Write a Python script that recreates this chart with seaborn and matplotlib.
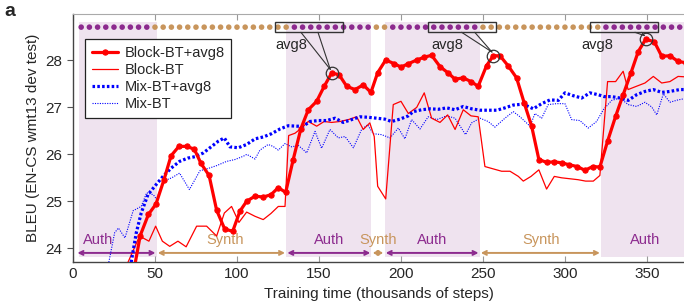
import numpy as np
import pandas as pd
import seaborn as sns
import matplotlib.pyplot as plt
from matplotlib.patches import Rectangle

# Block-BT+avg8 (thick red with markers)
block_avg_steps = [37, 41, 46, 50.6, 55.5, 59.8, 64.6, 69.3, 74, 78,
                   83, 87.6, 92.5, 97.4, 101.8, 105.9, 111, 116, 120.7, 125.2,
                   129.7, 134.3, 139, 143.5, 148.6, 153.2, 157.7, 162.2, 166.9, 172,
                   177, 181.7, 185.8, 190.7, 196, 200, 204.5, 209.6, 214.2, 218.7,
                   223.8, 228.9, 233, 238, 242.7, 247.1, 252.2, 256.3, 260.4, 265.5,
                   270.5, 275.2, 279.7, 284.1, 288.8, 293.5, 298, 302.4, 307.5, 312.2,
                   316.9, 321.3, 326, 330.9, 335.5, 340.2, 344.7, 349.2, 354.5, 359,
                   364, 369, 374]
block_avg_bleu = [23.5, 24.27, 24.72, 24.94, 25.46, 25.97, 26.17, 26.17, 26.11, 25.81,
                  25.55, 24.81, 24.41, 24.36, 24.79, 25.0, 25.11, 25.09, 25.14, 25.29,
                  25.19, 25.89, 26.55, 26.95, 27.13, 27.45, 27.73, 27.70, 27.45, 27.38,
                  27.48, 27.32, 27.74, 28.01, 27.93, 27.86, 27.93, 28.01, 28.07, 28.11,
                  27.87, 27.73, 27.60, 27.63, 27.55, 27.45, 27.89, 28.10, 28.10, 27.88,
                  27.63, 27.09, 26.60, 25.89, 25.83, 25.84, 25.82, 25.78, 25.74, 25.66,
                  25.74, 25.73, 26.28, 26.81, 27.27, 27.73, 28.19, 28.45, 28.40, 28.09,
                  28.10, 27.98, 27.95]

# Block-BT (thin red)
block_steps = [30, 40.6, 46.3, 50.4, 54.5, 59, 64, 69, 75.4, 81.5,
               87.6, 92.3, 96.7, 101.2, 105.9, 111, 116, 120.7, 125.2, 129.3,
               131.5, 135.4, 139.4, 143.5, 148.6, 153.2, 157.7, 162.8, 167.9, 173,
               177, 181, 183.7, 185.8, 190.7, 195.3, 200, 204.5, 209.6, 214.2,
               218.7, 223.8, 228.5, 233, 238, 242.7, 247.1, 251.2, 256.3, 261.4,
               266.5, 271.6, 274.6, 279.3, 284.1, 288.8, 293.5, 298, 303, 308,
               312.6, 317.3, 321.3, 326, 330.9, 335.5, 338.5, 343.6, 348.8, 353.9,
               359, 364, 369, 374]
block_bleu = [23.42, 24.26, 24.15, 24.47, 24.15, 24.04, 24.15, 24.03, 24.47, 24.47,
              24.26, 24.75, 24.89, 24.55, 24.77, 24.68, 24.61, 24.74, 24.89, 24.89,
              26.40, 26.45, 26.56, 26.70, 26.60, 26.70, 26.68, 26.70, 26.74, 26.80,
              26.53, 26.67, 26.38, 25.32, 25.05, 27.06, 27.13, 26.87, 27.00, 27.31,
              26.77, 26.68, 26.84, 26.53, 26.95, 26.82, 26.80, 25.74, 25.69, 25.64,
              25.64, 25.53, 25.43, 25.53, 25.67, 25.26, 25.53, 25.50, 25.48, 25.46,
              25.43, 25.43, 25.55, 27.55, 27.55, 27.77, 27.38, 27.45, 27.52, 27.66,
              27.52, 27.55, 27.66, 27.65]

# Mix-BT+avg8 (thick blue dotted)
mix_avg_steps = [34.5, 38.6, 41.6, 45.7, 50.8, 54.9, 60, 65, 70, 74.4,
                 79.5, 84.6, 88.6, 92.3, 95.7, 100.8, 105.9, 111, 116, 121.1,
                 126.2, 131.3, 136.4, 140.4, 144.5, 149.6, 154.7, 159.8, 164.8, 169.9,
                 175, 180, 185.2, 190.2, 194.3, 199.4, 204.5, 207.5, 212.6, 217.7,
                 222.8, 227.9, 233, 238, 243.1, 248.2, 253.2, 258.4, 263.4, 268.5,
                 274.6, 280.7, 285.8, 290.9, 296, 300, 305, 310.2, 315.2, 320.3,
                 323.9, 328.5, 333.5, 338.6, 343.7, 348.8, 353.9, 359, 364, 370,
                 375]
mix_avg_bleu = [23.5, 24.33, 24.75, 25.14, 25.36, 25.53, 25.71, 25.85, 25.92, 25.95,
                26.03, 26.17, 26.28, 26.35, 26.16, 26.14, 26.21, 26.33, 26.37, 26.44,
                26.54, 26.61, 26.60, 26.60, 26.70, 26.72, 26.72, 26.77, 26.68, 26.74,
                26.80, 26.79, 26.77, 26.75, 26.70, 26.75, 26.82, 26.91, 26.95, 26.97,
                26.96, 26.99, 26.95, 27.02, 26.97, 26.94, 26.94, 26.94, 26.99, 27.05,
                27.07, 26.97, 27.08, 27.16, 27.15, 27.31, 27.25, 27.20, 27.31, 27.27,
                27.23, 27.23, 27.20, 27.15, 27.27, 27.34, 27.38, 27.32, 27.34, 27.38,
                27.38]

# Mix-BT (thin blue dotted)
mix_steps = [21, 25.4, 27.7, 31.7, 36.7, 41.6, 44.9, 49, 51, 55.1,
             60.2, 65, 71, 77.4, 82.5, 87.6, 93.7, 98.8, 103.9, 106,
             111, 114, 119, 122, 125.2, 129.3, 133.3, 137.4, 140.4, 142.5,
             147.6, 151.6, 156.7, 161.8, 165.9, 171, 176, 179.7, 183.1, 188.2,
             193.3, 198.4, 202.4, 206.5, 211.6, 216.6, 221.8, 227.9, 233, 239.4,
             243.1, 248.2, 253.2, 257.3, 263.4, 268.5, 272.6, 278.7, 281.7, 285.8,
             289.8, 294.9, 300, 304.1, 309.1, 314.2, 319.3, 323.4, 328.5, 333.5,
             338.6, 343.7, 348.8, 352.9, 356, 360, 364, 369, 375]
mix_bleu = [23.55, 24.33, 24.43, 24.22, 24.80, 24.89, 25.18, 25.14, 25.04, 25.43,
            25.50, 25.60, 25.25, 25.65, 25.70, 25.76, 25.85, 25.89, 25.96, 26.00,
            25.90, 26.09, 26.21, 26.17, 26.09, 26.23, 26.16, 26.19, 26.10, 26.03,
            26.49, 26.13, 26.53, 26.35, 26.38, 26.14, 26.53, 26.63, 26.44, 26.42,
            26.35, 26.56, 26.33, 26.74, 26.54, 26.80, 26.74, 26.82, 26.77, 26.42,
            26.67, 26.77, 26.70, 26.58, 26.77, 26.91, 26.80, 26.60, 26.87, 26.77,
            27.06, 27.08, 27.08, 26.74, 26.72, 26.56, 26.70, 26.95, 27.15, 27.20,
            27.06, 27.02, 27.11, 27.01, 26.84, 27.29, 27.11, 27.16, 27.20]

# training phases
phase_bounds = [2, 51, 130, 182, 190, 248, 322, 380]
phase_names = ['Auth', 'Synth', 'Auth', 'Synth', 'Auth', 'Synth', 'Auth']
phase_label_x = [15.5, 93, 156, 186, 219, 285.5, 349]
checkpoint_steps = list(range(5, 375, 5))

# avg8 callouts: averaged checkpoint, box left edge, text x, callout feet
avg8_steps = [157.7, 256.3, 349.2]
avg8_box_left = [123, 216.5, 315]
avg8_text_x = [133, 228, 319.5]
avg8_feet = [(139, 149.4), (237, 245), (342.7, 346.8)]

auth_c = '#8c2a8e'
synth_c = '#c8955c'
shade_c = '#efe3ef'

sns.set_style('ticks')
plt.rcParams['font.family'] = ['Liberation Sans', 'DejaVu Sans']

fig = plt.figure(figsize=(6.84, 3.03), dpi=100)
ax = fig.add_axes([0.1067, 0.1343, 0.8933, 0.8195])
ax.set_xlim(0, 372.6)
ax.set_ylim(23.7, 28.99)

# shaded authentic phases
for i, name in enumerate(phase_names):
    if name == 'Auth':
        lo = phase_bounds[i] + (1.5 if i == 0 else 0)
        ax.axvspan(lo, phase_bounds[i + 1], ymin=0.022, ymax=0.968,
                   color=shade_c, lw=0, zorder=0)

# phase arrows and labels
for i, name in enumerate(phase_names):
    c = auth_c if name == 'Auth' else synth_c
    ax.annotate('', xy=(phase_bounds[i + 1] - 0.7, 23.90),
                xytext=(phase_bounds[i] + 0.7, 23.90),
                arrowprops=dict(arrowstyle='<->', color=c, lw=1.4,
                                shrinkA=0, shrinkB=0, mutation_scale=7))
    ax.text(phase_label_x[i], 24.02, name, color=c, ha='center', va='bottom',
            fontsize=10.5)

# checkpoint dots along the top
dots = pd.DataFrame({'step': checkpoint_steps})
def phase_of(s):
    for i, name in enumerate(phase_names):
        if phase_bounds[i] - 2 < s <= phase_bounds[i + 1] and i > 0:
            return name
    return 'Auth'
dots['phase'] = dots['step'].apply(phase_of)
dots['y'] = 28.71
sns.scatterplot(data=dots, x='step', y='y', hue='phase',
                palette={'Auth': auth_c, 'Synth': synth_c},
                s=16, linewidth=0, legend=False, ax=ax, zorder=3)

sns.lineplot(x=block_avg_steps, y=block_avg_bleu, sort=False, estimator=None,
             color='#ff0000', lw=2.3, marker='o', markersize=3.8,
             markeredgecolor='#ff0000', label='Block-BT+avg8', ax=ax, zorder=5)
sns.lineplot(x=block_steps, y=block_bleu, sort=False, estimator=None,
             color='#ff0000', lw=0.9, label='Block-BT', ax=ax, zorder=4)
sns.lineplot(x=mix_avg_steps, y=mix_avg_bleu, sort=False, estimator=None,
             color='#0000ff', lw=2.3, linestyle=(0, (0.8, 0.7)),
             label='Mix-BT+avg8', ax=ax, zorder=4)
sns.lineplot(x=mix_steps, y=mix_bleu, sort=False, estimator=None,
             color='#0000ff', lw=0.8, linestyle=(0, (1, 1.2)),
             label='Mix-BT', ax=ax, zorder=3)

for s, bx, tx, feet in zip(avg8_steps, avg8_box_left, avg8_text_x, avg8_feet):
    y = np.interp(s, block_avg_steps, block_avg_bleu)
    ax.plot([s], [y], 'o', ms=9, mfc='none', mec='#333333', mew=0.9, zorder=6)
    ax.add_patch(Rectangle((bx, 28.60), 41.5, 0.22, fill=False,
                           ec='#333333', lw=1.0, zorder=6))
    for fx in feet:
        ax.plot([fx, s - 0.8], [28.60, y + 0.08], color='#333333', lw=0.8, zorder=6)
    ax.text(tx, 28.33, 'avg8', ha='center', va='center', fontsize=10.5)

ax.set_xticks(range(0, 351, 50))
ax.set_yticks(range(24, 29))
ax.tick_params(axis='x', direction='in', top=True, length=4, color='#999999',
               labelsize=11)
ax.tick_params(axis='y', direction='out', length=4, color='#555555', labelsize=11)
ax.spines['top'].set_color('#aaaaaa')
ax.spines['right'].set_visible(False)
for side in ['left', 'bottom']:
    ax.spines[side].set_color('#444444')
    ax.spines[side].set_linewidth(1.0)

ax.set_xlabel('Training time (thousands of steps)', fontsize=11)
ax.set_ylabel('BLEU (EN-CS wmt13 dev test)', fontsize=11)

ax.legend(loc='upper left', bbox_to_anchor=(0.0196, 0.899), borderaxespad=0,
          fontsize=10.5, frameon=True, fancybox=False, edgecolor='#222222',
          framealpha=1, labelspacing=0.22, handlelength=1.8, handletextpad=0.45,
          borderpad=0.45)
ax.get_legend().get_frame().set_linewidth(0.9)

fig.text(0.006, 0.99, 'a', fontsize=14, fontweight='bold', va='top')

plt.savefig('out.png', dpi=100)
